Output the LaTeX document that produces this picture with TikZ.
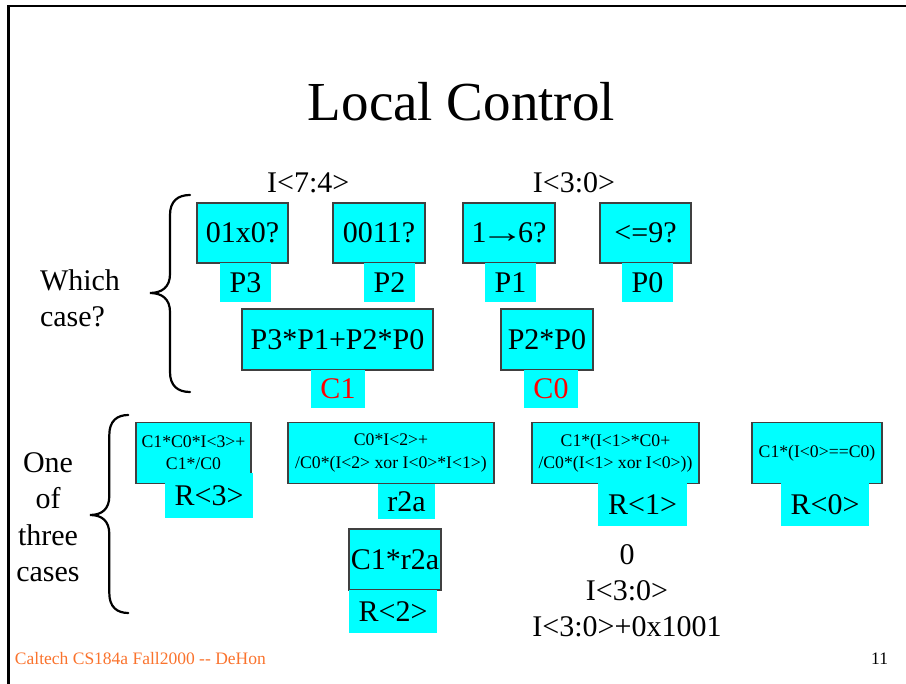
\documentclass[tikz,border=0pt]{standalone}
\usepackage{fontspec}
\setmainfont{Liberation Serif}
\definecolor{aqua}{RGB}{0,255,255}
\definecolor{boxline}{RGB}{64,64,64}
\definecolor{footer}{RGB}{250,115,45}
\definecolor{hot}{RGB}{255,0,0}

\tikzset{
  every node/.style={inner sep=0pt, outer sep=0pt},
  body/.style={font=\fontsize{30}{36.5}\selectfont},
  small/.style={font=\fontsize{17.7}{22.3}\selectfont, align=center},
  termbox/.style={draw=boxline, line width=1.3pt, fill=aqua},
  tag/.style={fill=aqua, font=\fontsize{30}{36}\selectfont},
  bracepen/.style={line width=2.2pt, line cap=round},
  framepen/.style={line width=2.5pt},
}

\begin{document}
\begin{tikzpicture}[x=1pt, y=-1pt]
\useasboundingbox (0,0) rectangle (906,684);

% slide frame: top and left edges only
\coordinate (fbl) at (8.7,684);
\coordinate (ftl) at (8.7,6.2);
\coordinate (ftr) at (906,6.2);
\draw[framepen] (fbl) -- (ftl) -- (ftr);

% title
\node[anchor=base, font=\fontsize{55}{66}\selectfont] (title) at (461.5,121) {Local Control};

% input slices
\node[body, anchor=base] (hi) at (308.3,193) {I<7:4>};
\node[body, anchor=base] (lo) at (574,193) {I<3:0>};

% side captions (base anchor sits on the last line)
\node[body, anchor=base west, align=left] (which) at (40,326.7) {Which\\case?};
\node[body, anchor=base, align=center] (onecase) at (48,581.7) {One\\of\\three\\cases};

% braces
\draw[bracepen] (190,195) .. controls (178,195) and (170,201) .. (170,215) -- (170,274)
  .. controls (170,287) and (162,293) .. (150,293)
  .. controls (162,293) and (170,299) .. (170,312) -- (170,372)
  .. controls (170,386) and (178,392) .. (190,392);
\draw[bracepen] (128.3,415) .. controls (117,415) and (109.3,421) .. (109.3,435) -- (109.3,496)
  .. controls (109.3,509) and (102,515) .. (90,515)
  .. controls (102,515) and (109.3,521) .. (109.3,534) -- (109.3,593)
  .. controls (109.3,607) and (117,613) .. (128.3,613);

% case detectors
\node[termbox, body, minimum width=91, minimum height=60] (d3) at (242.5,233) {01x0?};
\node[termbox, body, minimum width=92, minimum height=60] (d2) at (379,233) {0011?};
\node[termbox, body, minimum width=92, minimum height=60] (d1) at (509,233) {1\kern-6pt\scalebox{1.45}[1]{→}\kern-6pt6?};
\node[termbox, body, minimum width=91, minimum height=60] (d0) at (645.5,233) {<=9?};
\node[tag, minimum width=51, minimum height=39] (p3) at (245.5,282.5) {P3};
\node[tag, minimum width=51, minimum height=39] (p2) at (389.5,282.5) {P2};
\node[tag, minimum width=51, minimum height=39] (p1) at (510.5,282.5) {P1};
\node[tag, minimum width=51, minimum height=39] (p0) at (647.5,282.5) {P0};

% case encoding
\node[termbox, body, minimum width=191, minimum height=61] (e1) at (337.5,339.5) {P3*P1+P2*P0};
\node[termbox, body, minimum width=92, minimum height=61] (e0) at (547,339.5) {P2*P0};
\node[tag, text=hot, minimum width=54, minimum height=38] (c1) at (338,389) {C1};
\node[tag, text=hot, minimum width=54, minimum height=38] (c0) at (551,389) {C0};

% result bits
\node[termbox, small, minimum width=115, minimum height=61] (f3) at (193.5,453) {C1*C0*I<3>+\\C1*/C0};
\node[termbox, small, minimum width=206, minimum height=61] (f2a) at (391,453) {C0*I<2>+\\/C0*(I<2> xor I<0>*I<1>)};
\node[termbox, small, minimum width=167, minimum height=61] (f1) at (615.5,453) {C1*(I<1>*C0+\\/C0*(I<1> xor I<0>))};
\node[termbox, small, minimum width=130, minimum height=61] (f0) at (817,453) {C1*(I<0>==C0)};
\node[tag, minimum width=88, minimum height=45.5] (r3) at (209,495.7) {R<3>};
\node[tag, minimum width=57, minimum height=35] (r2a) at (406.5,501.5) {r2a};
\node[tag, minimum width=89, minimum height=43] (r1) at (642.5,504.5) {R<1>};
\node[tag, minimum width=88, minimum height=43] (r0) at (825,504.5) {R<0>};

\node[termbox, body, minimum width=92, minimum height=61] (f2) at (395,559.5) {C1*r2a};
\node[tag, minimum width=88, minimum height=43] (r2) at (393,611.5) {R<2>};

% output values
\node[body, anchor=base, align=center] (vals) at (627,637) {0\\I<3:0>\\I<3:0>+0x1001};

% footer
\node[anchor=base west, text=footer, font=\fontsize{17.5}{21}\selectfont] (foot) at (15,665) {Caltech CS184a Fall2000 -{}- DeHon};
\node[anchor=base east, font=\fontsize{17.5}{21}\selectfont] (pgno) at (888,665) {11};
\end{tikzpicture}
\end{document}
